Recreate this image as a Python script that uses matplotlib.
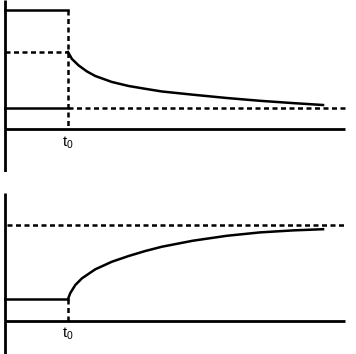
import matplotlib
matplotlib.use("Agg")
import matplotlib.pyplot as plt

plt.rcParams['font.family'] = ['Liberation Sans', 'DejaVu Sans']
plt.rcParams['mathtext.default'] = 'regular'

# time axis (t0 = 1)
t0 = 1.0
t_end_axis = 5.4

# top panel: levels (height units)
top_initial = 119
top_jump = 77
top_final = 21
top_t = [1.0, 1.063, 1.170, 1.302, 1.433, 1.698, 1.963, 2.227, 2.492,
         2.984, 3.519, 4.048, 4.571, 5.048]
top_y = [77, 70, 63.5, 57.5, 53, 47, 43, 40.2, 37.5,
         34.3, 31.0, 28.2, 25.9, 24]

# bottom panel
bot_initial = 22
bot_final = 96
bot_t = [1.0, 1.037, 1.116, 1.222, 1.433, 1.698, 1.963, 2.227, 2.492,
         2.984, 3.519, 4.048, 4.571, 5.048]
bot_y = [22, 28, 36, 42.7, 51.7, 59.3, 65, 70, 74.3,
         80.3, 85.2, 88.6, 90.6, 91.8]

W, H = 356, 354
fig = plt.figure(figsize=(W / 100, H / 100), dpi=100)

lw = 1.8
alw = 2.0
dash = (0, (2.0, 1.4))

def make_ax(top_px, bot_px, axis_px):
    ax = fig.add_axes([0, 1 - bot_px / H, 1, (bot_px - top_px) / H])
    ax.set_xlim(-5 / 63, (W - 5) / 63)
    ax.set_ylim(-(bot_px - axis_px), axis_px - top_px)
    ax.axis('off')
    ax.plot([0, 0], [-(bot_px - axis_px), axis_px - top_px], color='black', lw=alw, solid_capstyle='butt')
    ax.plot([0, t_end_axis], [0, 0], color='black', lw=alw, solid_capstyle='butt')
    return ax

# Top panel
ax1 = make_ax(0, 172, 129)
ax1.plot([0, t0], [top_initial, top_initial], color='black', lw=lw)
ax1.plot([0, t0], [top_jump, top_jump], color='black', lw=lw, linestyle=dash)
ax1.plot([t0, t0], [top_initial, 0], color='black', lw=lw, linestyle=dash)
ax1.plot([0, t0], [top_final, top_final], color='black', lw=lw)
ax1.plot([t0, t_end_axis], [top_final, top_final], color='black', lw=lw, linestyle=dash)
ax1.plot(top_t, top_y, color='black', lw=lw, solid_joinstyle='round')
ax1.text(t0, -14, r't$_{0}$', ha='center', va='center', fontsize=10.5)

# Bottom panel
ax2 = make_ax(193, 354, 321)
ax2.plot([0, t0], [bot_initial, bot_initial], color='black', lw=lw)
ax2.plot([t0, t0], [bot_initial, 0], color='black', lw=lw, linestyle=dash)
ax2.plot([0.03, t_end_axis], [bot_final, bot_final], color='black', lw=lw, linestyle=dash)
ax2.plot(bot_t, bot_y, color='black', lw=lw, solid_joinstyle='round')
ax2.text(t0, -13, r't$_{0}$', ha='center', va='center', fontsize=10.5)

fig.savefig('out.png', dpi=100)
